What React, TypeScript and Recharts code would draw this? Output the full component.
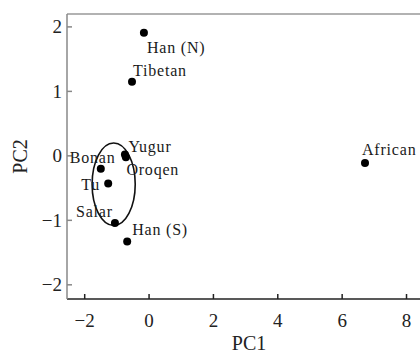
import React from 'react';
import { ScatterChart, Scatter, XAxis, YAxis, ReferenceArea, ReferenceLine, Label } from 'recharts';

const populations = ['Han (N)', 'Tibetan', 'Yugur', 'Oroqen', 'Bonan', 'Tu', 'Salar', 'Han (S)', 'African'];
const pc1 = [-0.16, -0.53, -0.75, -0.72, -1.5, -1.27, -1.06, -0.68, 6.71];
const pc2 = [1.91, 1.15, 0.02, -0.02, -0.2, -0.43, -1.04, -1.33, -0.11];
const xTicks = [-2, 0, 2, 4, 6, 8];
const yTicks = [-2, -1, 0, 1, 2];
const cluster = { x1: -1.77, x2: -0.43, y1: -1.08, y2: 0.2 };

// label text start (dx) and baseline (dy) relative to the dot centre, in px
const labelOffsets: Record<string, [number, number]> = {
  'Han (N)': [3, 20],
  Tibetan: [1, -6],
  Yugur: [3.5, -3],
  Oroqen: [0.5, 18],
  Bonan: [-31, -6],
  Tu: [-27, 6],
  Salar: [-39, -6],
  'Han (S)': [5, -7],
  African: [-3, -8],
};

const data = populations.map((name, i) => ({ name, x: pc1[i], y: pc2[i] }));

const FONT = "'Liberation Serif', 'Times New Roman', Times, serif";

const fmt = (v: number) => (v < 0 ? '\u2212' + Math.abs(v) : String(v));

const PointShape = (props: any) => {
  const { cx, cy, payload } = props;
  const name = payload?.name ?? '';
  const off = labelOffsets[name] || [4, -6];
  return (
    <g>
      <circle cx={cx} cy={cy} r={4} fill="#000" />
      <text
        x={cx + off[0]}
        y={cy + off[1]}
        style={{ fontFamily: FONT, fontSize: 16, letterSpacing: 0.8, fill: '#1a1a1a' }}
      >
        {name}
      </text>
    </g>
  );
};

const XTick = (props: any) => {
  const { x, y, payload } = props;
  return (
    <text x={x} y={y} dy="0.71em" textAnchor="middle" style={{ fontFamily: FONT, fontSize: 19, fill: '#222' }}>
      {fmt(payload.value)}
    </text>
  );
};

const YTick = (props: any) => {
  const { x, y, payload } = props;
  return (
    <text x={x} y={y} dy="0.34em" textAnchor="end" style={{ fontFamily: FONT, fontSize: 19, fill: '#222' }}>
      {fmt(payload.value)}
    </text>
  );
};

const EllipseShape = (props: any) => {
  const { x, y, width, height } = props;
  return (
    <ellipse
      cx={x + width / 2}
      cy={y + height / 2}
      rx={Math.abs(width) / 2}
      ry={Math.abs(height) / 2}
      fill="none"
      stroke="#111"
      strokeWidth={1.6}
    />
  );
};

export default function App() {
  return (
    <div style={{ position: 'fixed', left: 0, top: 0, width: 420, height: 354, overflow: 'hidden', background: '#fff', fontFamily: FONT }}>
      <ScatterChart width={422} height={354} margin={{ top: 14, right: 1, bottom: 0, left: 0 }} style={{ fontFamily: FONT }}>
        <XAxis
          type="number"
          dataKey="x"
          domain={[-2.55, 8.45]}
          ticks={xTicks}
          allowDataOverflow
          height={55}
          stroke="#222"
          strokeWidth={1.5}
          tickSize={-5}
          tickMargin={20}
          tick={<XTick />}
        >
          <Label value="PC1" position="insideBottom" offset={4} dx={5} style={{ fill: '#222', fontSize: 20, fontFamily: FONT }} />
        </XAxis>
        <YAxis
          type="number"
          dataKey="y"
          domain={[-2.22, 2.2]}
          ticks={yTicks}
          allowDataOverflow
          width={67}
          stroke="#888"
          strokeWidth={1.5}
          tickSize={-5}
          tickMargin={10}
          tick={<YTick />}
        >
          <Label value="PC2" angle={-90} position="insideLeft" offset={20} style={{ fill: '#222', fontSize: 20, fontFamily: FONT, textAnchor: 'middle' }} />
        </YAxis>
        <ReferenceLine y={2.2} stroke="#999" strokeWidth={1.5} ifOverflow="visible" />
        <ReferenceArea
          x1={cluster.x1}
          x2={cluster.x2}
          y1={cluster.y1}
          y2={cluster.y2}
          shape={EllipseShape}
          ifOverflow="visible"
        />
        <Scatter data={data} shape={PointShape} isAnimationActive={false} />
      </ScatterChart>
    </div>
  );
}
